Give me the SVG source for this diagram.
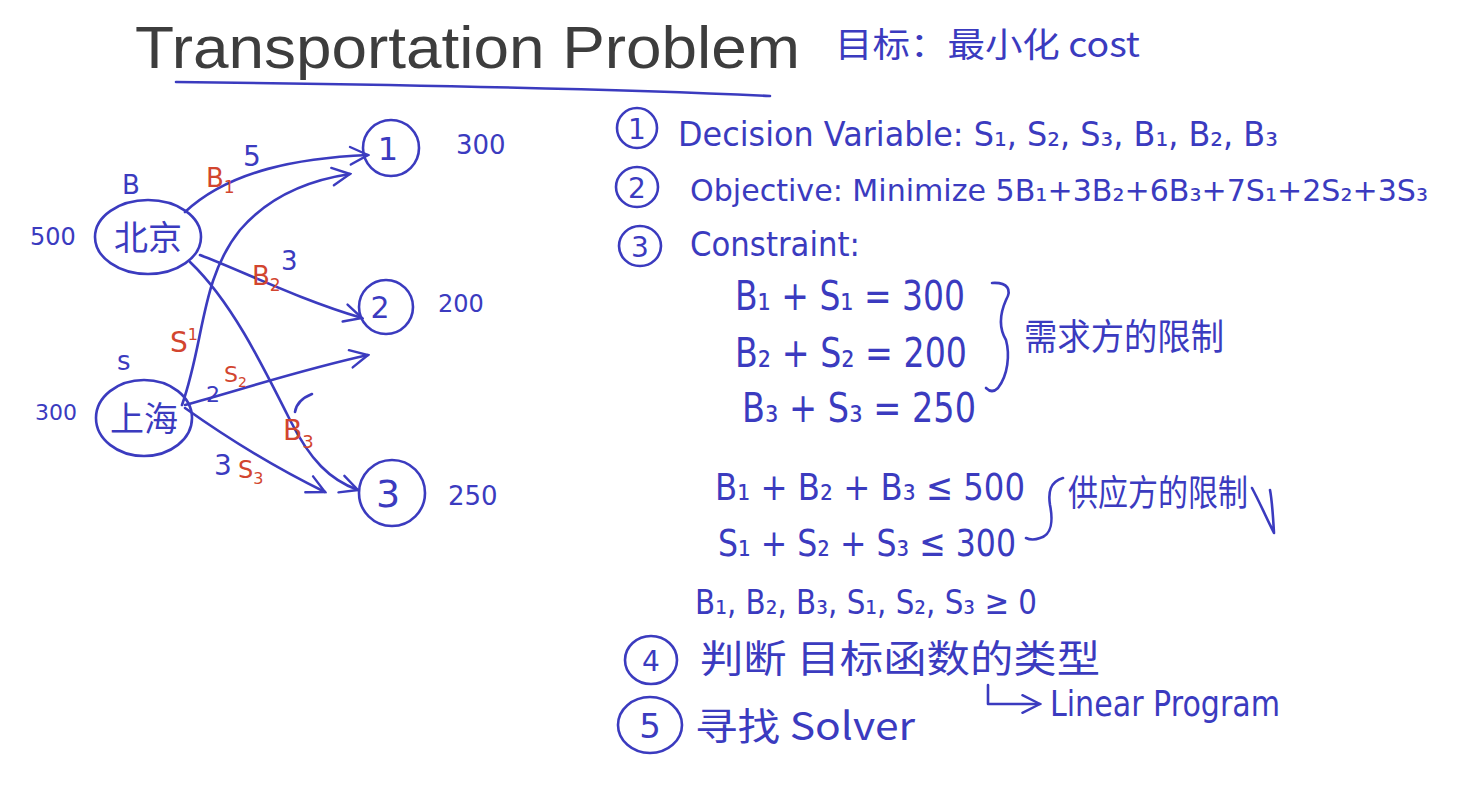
<svg xmlns="http://www.w3.org/2000/svg" width="1464" height="787" viewBox="0 0 1464 787">
<style>
.ink{fill:none;stroke:#3b3bbf;stroke-width:2.6;stroke-linecap:round;stroke-linejoin:round}
.t{fill:#3b3bbf;font-family:"DejaVu Sans","Noto Sans CJK SC",sans-serif}
.cn{fill:#3b3bbf;font-family:"Noto Sans CJK SC",sans-serif}
.r{fill:#d2452f;font-family:"DejaVu Sans",sans-serif}
.title{fill:#3d3d3d;font-family:"Liberation Sans",Arial,sans-serif}
</style>
<defs>
<marker id="ah" viewBox="0 0 20 20" refX="18" refY="10" markerWidth="22" markerHeight="22" markerUnits="userSpaceOnUse" orient="auto">
<path d="M2,2 L18,10 L2,18" fill="none" stroke="#3b3bbf" stroke-width="2.2" stroke-linecap="round"/>
</marker>
</defs>
<rect width="1464" height="787" fill="#ffffff"/>

<g id="title">
<text class="title" x="135" y="68" font-size="60" textLength="665" lengthAdjust="spacingAndGlyphs">Transportation Problem</text>
<path class="ink" d="M176,82 C350,84 600,88 770,96"/>
<text class="cn" x="835" y="57" font-size="34" textLength="305" lengthAdjust="spacingAndGlyphs">目标：最小化 cost</text>
</g>

<g id="connectors">
<path class="ink" d="M185,212 C230,170 300,158 368,155" marker-end="url(#ah)"/>
<path class="ink" d="M182,405 C205,340 200,280 240,230 C270,195 310,180 350,174" marker-end="url(#ah)"/>
<path class="ink" d="M200,255 C240,270 300,300 362,318" marker-end="url(#ah)"/>
<path class="ink" d="M190,262 C230,300 260,360 290,420 C310,460 330,480 358,490" marker-end="url(#ah)"/>
<path class="ink" d="M185,405 C240,390 300,370 368,355" marker-end="url(#ah)"/>
<path class="ink" d="M185,408 C230,440 280,470 325,492" marker-end="url(#ah)"/>
<path class="ink" d="M312,394 C302,398 296,405 295,412"/>
<text class="r" x="206" y="187" font-size="26">B<tspan font-size="17" dy="6">1</tspan></text>
<text class="t" x="243" y="166" font-size="28">5</text>
<text class="r" x="252" y="285" font-size="26">B<tspan font-size="17" dy="6">2</tspan></text>
<text class="t" x="281" y="270" font-size="26">3</text>
<text class="r" x="283" y="440" font-size="28">B<tspan font-size="18" dy="8">3</tspan></text>
<text class="r" x="170" y="352" font-size="28">S<tspan font-size="16" dy="-12">1</tspan></text>
<text class="r" x="224" y="382" font-size="22">S<tspan font-size="14" dy="5">2</tspan></text>
<text class="t" x="206" y="402" font-size="22">2</text>
<text class="t" x="214" y="475" font-size="28">3</text>
<text class="r" x="238" y="478" font-size="24">S<tspan font-size="16" dy="6">3</tspan></text>
</g>

<g id="node-beijing">
<ellipse class="ink" cx="148" cy="237" rx="53" ry="37"/>
<text class="cn" x="148" y="250" font-size="34" text-anchor="middle">北京</text>
<text class="t" x="122" y="194" font-size="26">B</text>
<text class="t" x="30" y="245" font-size="24">500</text>
</g>
<g id="node-shanghai">
<ellipse class="ink" cx="144" cy="418" rx="48" ry="38"/>
<text class="cn" x="144" y="431" font-size="34" text-anchor="middle">上海</text>
<text class="t" x="117" y="370" font-size="26">s</text>
<text class="t" x="35" y="420" font-size="22">300</text>
</g>
<g id="node-1">
<circle class="ink" cx="391" cy="148" r="28"/>
<text class="t" x="388" y="160" font-size="32" text-anchor="middle">1</text>
<text class="t" x="456" y="154" font-size="26">300</text>
</g>
<g id="node-2">
<circle class="ink" cx="386" cy="307" r="27"/>
<text class="t" x="380" y="318" font-size="30" text-anchor="middle">2</text>
<text class="t" x="438" y="312" font-size="24">200</text>
</g>
<g id="node-3">
<circle class="ink" cx="392" cy="493" r="33"/>
<text class="t" x="388" y="507" font-size="38" text-anchor="middle">3</text>
<text class="t" x="448" y="505" font-size="26">250</text>
</g>

<g id="step1">
<ellipse class="ink" cx="637" cy="128" rx="20" ry="20"/>
<text class="t" x="637" y="139" font-size="28" text-anchor="middle">1</text>
<text class="t" x="678" y="146" font-size="34" textLength="600" lengthAdjust="spacingAndGlyphs">Decision Variable: S₁, S₂, S₃, B₁, B₂, B₃</text>
</g>
<g id="step2">
<ellipse class="ink" cx="637" cy="187" rx="21" ry="20"/>
<text class="t" x="637" y="198" font-size="28" text-anchor="middle">2</text>
<text class="t" x="690" y="201" font-size="30" textLength="738" lengthAdjust="spacingAndGlyphs">Objective: Minimize 5B₁+3B₂+6B₃+7S₁+2S₂+3S₃</text>
</g>
<g id="step3">
<ellipse class="ink" cx="640" cy="246" rx="21" ry="20"/>
<text class="t" x="640" y="257" font-size="28" text-anchor="middle">3</text>
<text class="t" x="690" y="256" font-size="34" textLength="170" lengthAdjust="spacingAndGlyphs">Constraint:</text>
<text class="t" x="735" y="310" font-size="40" textLength="230" lengthAdjust="spacingAndGlyphs">B₁ + S₁ = 300</text>
<text class="t" x="735" y="367" font-size="40" textLength="232" lengthAdjust="spacingAndGlyphs">B₂ + S₂ = 200</text>
<text class="t" x="742" y="422" font-size="40" textLength="234" lengthAdjust="spacingAndGlyphs">B₃ + S₃ = 250</text>
<path class="ink" d="M992,283 C1008,282 1012,290 1006,300 C998,318 1000,330 1006,340 C1010,355 1008,375 998,388 C994,392 990,392 986,388"/>
<text class="cn" x="1024" y="350" font-size="36" textLength="200" lengthAdjust="spacingAndGlyphs">需求方的限制</text>
<text class="t" x="715" y="500" font-size="38" textLength="310" lengthAdjust="spacingAndGlyphs">B₁ + B₂ + B₃ ≤ 500</text>
<text class="t" x="718" y="556" font-size="38" textLength="298" lengthAdjust="spacingAndGlyphs">S₁ + S₂ + S₃ ≤ 300</text>
<path class="ink" d="M1063,478 C1050,482 1048,492 1050,505 C1053,520 1052,535 1040,538 C1035,540 1030,540 1026,538"/>
<text class="cn" x="1068" y="506" font-size="36" textLength="180" lengthAdjust="spacingAndGlyphs">供应方的限制</text>
<path class="ink" d="M1252,488 C1260,503 1266,517 1274,533 C1273,515 1272,500 1270,490"/>
<text class="t" x="695" y="614" font-size="34" textLength="342" lengthAdjust="spacingAndGlyphs">B₁, B₂, B₃, S₁, S₂, S₃ ≥ 0</text>
</g>
<g id="step4">
<ellipse class="ink" cx="651" cy="660" rx="26" ry="24"/>
<text class="t" x="651" y="671" font-size="28" text-anchor="middle">4</text>
<text class="cn" x="700" y="672" font-size="38" textLength="400" lengthAdjust="spacingAndGlyphs">判断 目标函数的类型</text>
</g>
<g id="step5">
<ellipse class="ink" cx="650" cy="725" rx="32" ry="28"/>
<text class="t" x="650" y="738" font-size="34" text-anchor="middle">5</text>
<text class="cn" x="695" y="740" font-size="38" textLength="220" lengthAdjust="spacingAndGlyphs">寻找 Solver</text>
</g>
<g id="linear-program">
<path class="ink" d="M988,685 L988,704 L1040,704" marker-end="url(#ah)"/>
<text class="t" x="1050" y="716" font-size="36" textLength="230" lengthAdjust="spacingAndGlyphs">Linear Program</text>
</g>
</svg>
